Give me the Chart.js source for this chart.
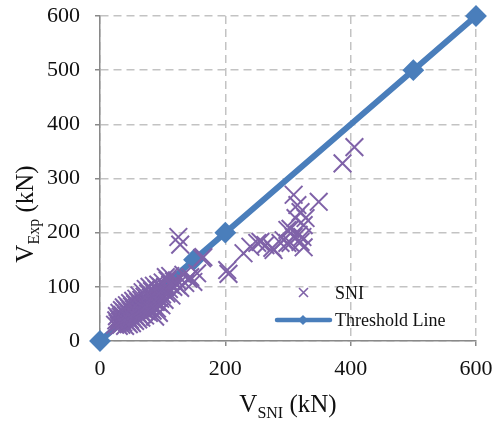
<!DOCTYPE html>
<html>
<head>
<meta charset="utf-8">
<script src="https://cdn.jsdelivr.net/npm/chart.js@4/dist/chart.umd.min.js"></script>
<style>
  html, body { margin: 0; padding: 0; background: #fff; }
  #wrap { width: 495px; height: 425px; position: relative; }
</style>
</head>
<body>
<div id="wrap"><canvas id="chart"></canvas></div>
<script>
// SNI prediction vs experiment (kN)
var sniX = [24,26,27,28,30,30,31,32,33,34,35,35,36,37,38,38,39,40,40,41,42,43,43,44,45,46,46,47,48,48,
            49,50,51,51,52,53,53,54,55,56,56,57,58,58,59,60,61,61,62,63,63,64,65,66,66,67,68,68,69,70,
            71,72,72,73,74,75,76,77,78,78,79,80,81,82,83,84,85,86,87,88,88,89,90,91,92,93,94,94,95,96,
            97,98,99,100,101,103,104,106,108,110,112,114,
            105,112,117,118,123,123,128,133,136,141,144,149,155,
            125,128,163,165,203,205,229,240,251,256,264,275,277,288,293,299,299,304,304,309,312,315,
            317,320,320,323,325,325,328,309,349,387,406];
var sniY = [30,38,46,33,28,41,52,36,45,30,57,39,48,34,62,43,52,28,38,58,47,66,35,53,42,61,31,49,70,39,
            56,45,64,33,52,74,41,59,48,68,37,55,78,44,62,51,72,40,58,84,47,66,54,76,43,61,90,50,70,58,
            82,47,65,96,55,75,62,88,52,70,100,60,80,68,92,56,76,102,64,86,45,72,96,60,80,104,70,52,90,78,
            100,66,86,108,94,76,100,88,112,96,104,84,
            118,120,100,110,112,103,98,122,107,115,118,109,125,
            192,178,153,155,131,124,162,174,181,183,177,172,168,181,186,181,205,181,207,192,227,251,
            196,238,183,192,214,173,227,270,257,328,358];

var thresholdX = [0, 150, 200, 500, 600];
var thresholdY = [0, 150, 200, 500, 600];

var xTicks = [0, 200, 400, 600];
var yTicks = [0, 100, 200, 300, 400, 500, 600];

var purple = '#7F62A8';
var blue = '#4A7EBB';
var gridCol = '#C3C3C3';
var axisCol = '#898989';
var serif = '"Liberation Serif", "Times New Roman", serif';

function pts(xs, ys) {
  return xs.map(function (x, i) { return { x: x, y: ys[i] }; });
}

// axis titles with subscripts
function drawSubTitle(ctx, main, sub, rest, size) {
  ctx.font = size + 'px ' + serif;
  var w1 = ctx.measureText(main).width;
  var w3 = ctx.measureText(rest).width;
  ctx.font = Math.round(size * 0.65) + 'px ' + serif;
  var w2 = ctx.measureText(sub).width;
  var total = w1 + w2 + w3;
  var x = -total / 2;
  ctx.textAlign = 'left';
  ctx.textBaseline = 'alphabetic';
  ctx.font = size + 'px ' + serif;
  ctx.fillText(main, x, 0);
  ctx.font = Math.round(size * 0.65) + 'px ' + serif;
  ctx.fillText(sub, x + w1, size * 0.25);
  ctx.font = size + 'px ' + serif;
  ctx.fillText(rest, x + w1 + w2, 0);
}

var titlesPlugin = {
  id: 'titles',
  afterDraw: function (chart) {
    var ctx = chart.ctx;
    var a = chart.chartArea;
    ctx.save();
    ctx.fillStyle = '#111';
    ctx.save();
    ctx.translate((a.left + a.right) / 2, 412);
    drawSubTitle(ctx, 'V', 'SNI', ' (kN)', 25);
    ctx.restore();
    ctx.save();
    ctx.translate(33, 214);
    ctx.rotate(-Math.PI / 2);
    drawSubTitle(ctx, 'V', 'Exp', ' (kN)', 25);
    ctx.restore();
    ctx.restore();
  }
};

var legendPlugin = {
  id: 'inlineLegend',
  afterDatasetsDraw: function (chart) {
    var ctx = chart.ctx;
    ctx.save();
    ctx.font = '18px ' + serif;
    ctx.fillStyle = '#111';
    ctx.textAlign = 'left';
    ctx.textBaseline = 'middle';
    // SNI
    ctx.strokeStyle = purple;
    ctx.lineWidth = 1.6;
    ctx.beginPath();
    ctx.moveTo(299, 288); ctx.lineTo(308, 297);
    ctx.moveTo(308, 288); ctx.lineTo(299, 297);
    ctx.stroke();
    ctx.fillText('SNI', 335, 294);
    // Threshold Line
    ctx.strokeStyle = blue;
    ctx.lineWidth = 4.5;
    ctx.lineCap = 'round';
    ctx.beginPath();
    ctx.moveTo(277, 320); ctx.lineTo(330, 320);
    ctx.stroke();
    ctx.fillStyle = blue;
    ctx.beginPath();
    ctx.moveTo(303, 315); ctx.lineTo(308, 320); ctx.lineTo(303, 325); ctx.lineTo(298, 320);
    ctx.closePath();
    ctx.fill();
    ctx.fillStyle = '#111';
    ctx.fillText('Threshold Line', 335, 321);
    ctx.restore();
  }
};

window.addEventListener('DOMContentLoaded', function () {
  var ctx = document.getElementById('chart').getContext('2d');
  new Chart(ctx, {
    type: 'scatter',
    data: {
      datasets: [{
        label: 'SNI',
        data: pts(sniX, sniY),
        pointStyle: 'crossRot',
        pointRadius: 12.5,
        pointHoverRadius: 12.5,
        borderColor: purple,
        backgroundColor: purple,
        pointBorderWidth: 2,
        showLine: false,
        clip: false
      }, {
        label: 'Threshold Line',
        data: pts(thresholdX, thresholdY),
        showLine: true,
        borderColor: blue,
        backgroundColor: blue,
        borderWidth: 6,
        pointStyle: 'rectRot',
        pointRadius: 9.5,
        pointBorderWidth: 2,
        pointBorderColor: blue,
        pointBackgroundColor: blue,
        clip: false
      }]
    },
    options: {
      responsive: true,
      maintainAspectRatio: false,
      animation: false,
      layout: { padding: { top: 16, right: 19, left: 0, bottom: 0 } },
      plugins: {
        legend: { display: false },
        tooltip: { enabled: false }
      },
      scales: {
        x: {
          type: 'linear',
          min: 0,
          max: 600,
          afterBuildTicks: function (s) { s.ticks = xTicks.map(function (v) { return { value: v }; }); },
          afterFit: function (s) { s.height = 84; s.paddingLeft = 0; s.paddingRight = 0; },
          grid: { color: gridCol, lineWidth: 1.5, tickLength: 5, tickColor: axisCol, tickWidth: 1.5 },
          border: { color: axisCol, width: 1.5, dash: [8, 5] },
          ticks: { color: '#111', font: { family: serif, size: 22 }, padding: 10, maxRotation: 0 }
        },
        y: {
          type: 'linear',
          min: 0,
          max: 600,
          afterBuildTicks: function (s) { s.ticks = yTicks.map(function (v) { return { value: v }; }); },
          afterFit: function (s) { s.width = 100; s.paddingTop = 0; s.paddingBottom = 0; },
          grid: { color: gridCol, lineWidth: 1.5, tickLength: 5, tickColor: axisCol, tickWidth: 1.5 },
          border: { color: axisCol, width: 1.5, dash: [8, 5] },
          ticks: { color: '#111', font: { family: serif, size: 22 }, padding: 15 }
        }
      }
    },
    plugins: [titlesPlugin, legendPlugin]
  });
});
</script>
</body>
</html>
